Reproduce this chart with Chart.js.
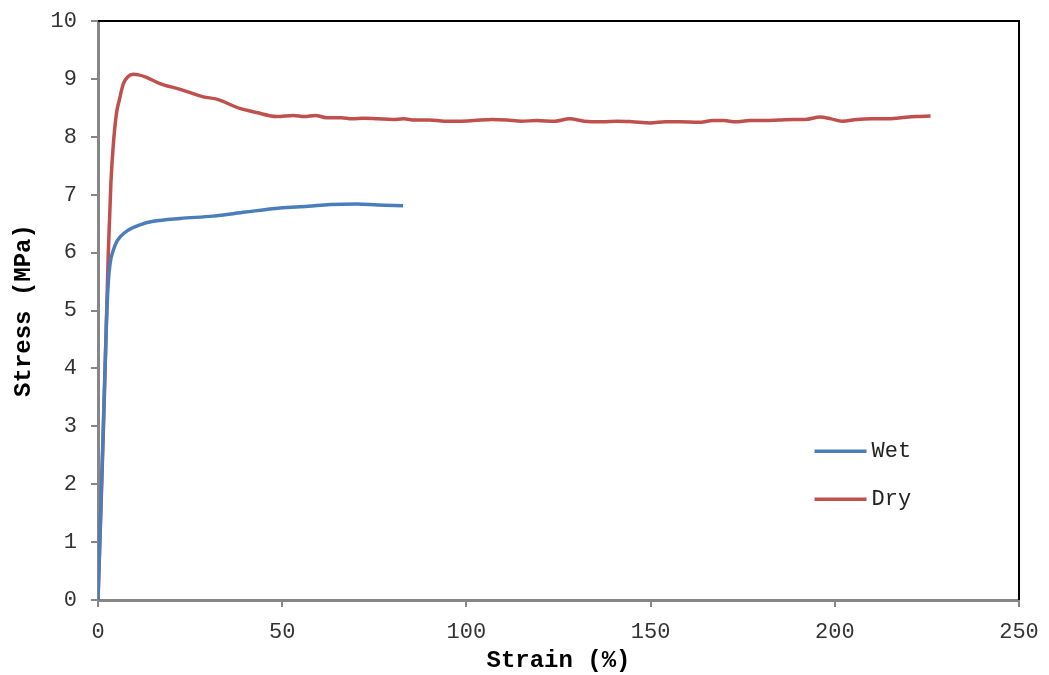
<!DOCTYPE html>
<html lang="en">
<head>
  <meta charset="UTF-8">
  <title>Stress vs Strain</title>
  <script src="https://cdn.jsdelivr.net/npm/chart.js"></script>
  <style>
    body { margin: 0; background: #fff; }
  </style>
</head>
<body>
  <canvas id="chart" width="1049" height="675"></canvas>

  <script>
    // strain (%) and stress (MPa)
    const wetStrain = [0, 1.2, 2.3, 2.8, 3.3, 4.2, 5, 6, 8, 11.4, 15, 22.3, 31.2, 40, 49.4, 57, 63, 70.3, 76, 82.8];
    const wetStress = [0, 2.5, 4.8, 5.5, 5.82, 6.05, 6.18, 6.27, 6.38, 6.48, 6.54, 6.59, 6.63, 6.70, 6.77, 6.80, 6.83, 6.84, 6.82, 6.81];

    const dryStrain = [0, 1.5, 2.8, 3.5, 4.2, 5, 5.8, 6.9, 8, 9.6, 11, 13, 16.8, 22.3, 28.6, 32.2, 38.5, 43, 48.5,
      53, 56, 59, 62, 66, 69, 72, 76, 80, 83, 86, 90, 94, 98, 102, 107, 111, 115, 119, 124, 128, 132, 137, 141,
      145, 150, 154, 158, 163, 167, 170, 173, 177, 181, 185, 189, 192, 196, 199, 202, 206, 210, 214, 218, 222, 226];
    const dryStress = [0, 3, 6, 7.2, 7.9, 8.4, 8.64, 8.92, 9.03, 9.08, 9.07, 9.03, 8.92, 8.82, 8.69, 8.65, 8.49, 8.42, 8.35,
      8.37, 8.35, 8.37, 8.33, 8.33, 8.31, 8.32, 8.31, 8.30, 8.31, 8.29, 8.29, 8.27, 8.27, 8.28, 8.30, 8.29, 8.27, 8.28, 8.27, 8.31, 8.27, 8.26, 8.27,
      8.26, 8.24, 8.26, 8.26, 8.25, 8.28, 8.28, 8.26, 8.28, 8.28, 8.29, 8.30, 8.30, 8.34, 8.31, 8.27, 8.30, 8.31, 8.31, 8.33, 8.35, 8.36];

    const seriesNames = ['Wet', 'Dry'];
    const xTitle = 'Strain (%)';
    const yTitle = 'Stress (MPa)';

    const toPoints = (xs, ys) => xs.map((x, i) => ({ x, y: ys[i] }));

    const FONT = '"Liberation Mono", "Courier New", monospace';
    const AXIS_GREY = '#868686';

    // black frame on top and right, legend inside the plot
    const framePlugin = {
      id: 'frame',
      afterDraw(chart) {
        const { ctx, chartArea: a } = chart;
        ctx.save();
        ctx.strokeStyle = '#000';
        ctx.lineWidth = 2;
        ctx.beginPath();
        ctx.moveTo(a.left, a.top);
        ctx.lineTo(a.right, a.top);
        ctx.lineTo(a.right, a.bottom);
        ctx.stroke();

        // legend
        const lx = a.left + (a.right - a.left) * 0.778;
        let ly = a.top + (a.bottom - a.top) * 0.743;
        ctx.font = '22px ' + FONT;
        ctx.textBaseline = 'middle';
        chart.data.datasets.forEach(ds => {
          ctx.strokeStyle = ds.borderColor;
          ctx.lineWidth = 3.5;
          ctx.beginPath();
          ctx.moveTo(lx, ly);
          ctx.lineTo(lx + 52, ly);
          ctx.stroke();
          ctx.fillStyle = '#222';
          ctx.fillText(ds.label, lx + 57, ly);
          ly += 48;
        });
        ctx.restore();
      }
    };

    new Chart(document.getElementById('chart'), {
      type: 'scatter',
      data: {
        datasets: [
          {
            label: seriesNames[0],
            data: toPoints(wetStrain, wetStress),
            showLine: true,
            borderColor: '#4A7EBB',
            borderWidth: 3.5,
            pointRadius: 0,
            cubicInterpolationMode: 'monotone'
          },
          {
            label: seriesNames[1],
            data: toPoints(dryStrain, dryStress),
            showLine: true,
            borderColor: '#C0504D',
            borderWidth: 3.5,
            pointRadius: 0,
            cubicInterpolationMode: 'monotone'
          }
        ]
      },
      options: {
        responsive: false,
        animation: false,
        layout: { padding: { top: 21, right: 30, left: 10, bottom: 0 } },
        plugins: {
          legend: { display: false },
          tooltip: { enabled: false }
        },
        scales: {
          x: {
            min: 0, max: 250,
            ticks: { stepSize: 50, color: '#333', font: { family: FONT, size: 22 }, padding: 12 },
            grid: { drawOnChartArea: false, drawTicks: true, tickLength: 7, color: AXIS_GREY, lineWidth: 2 },
            border: { color: AXIS_GREY, width: 3 },
            title: { display: true, text: xTitle, color: '#000', font: { family: FONT, size: 24, weight: 'bold' }, padding: { top: 0, bottom: 0 } },
            afterFit: s => { s.height = 75; s.paddingLeft = 0; s.paddingRight = 0; }
          },
          y: {
            min: 0, max: 10,
            ticks: { stepSize: 1, color: '#333', font: { family: FONT, size: 22 }, padding: 14 },
            grid: { drawOnChartArea: false, drawTicks: true, tickLength: 7, color: AXIS_GREY, lineWidth: 2 },
            border: { color: AXIS_GREY, width: 3 },
            title: { display: true, text: yTitle, color: '#000', font: { family: FONT, size: 24, weight: 'bold' }, padding: { top: 0, bottom: 0 } },
            afterFit: s => { s.width = 88; s.paddingTop = 0; s.paddingBottom = 0; }
          }
        }
      },
      plugins: [framePlugin]
    });
  </script>
</body>
</html>
